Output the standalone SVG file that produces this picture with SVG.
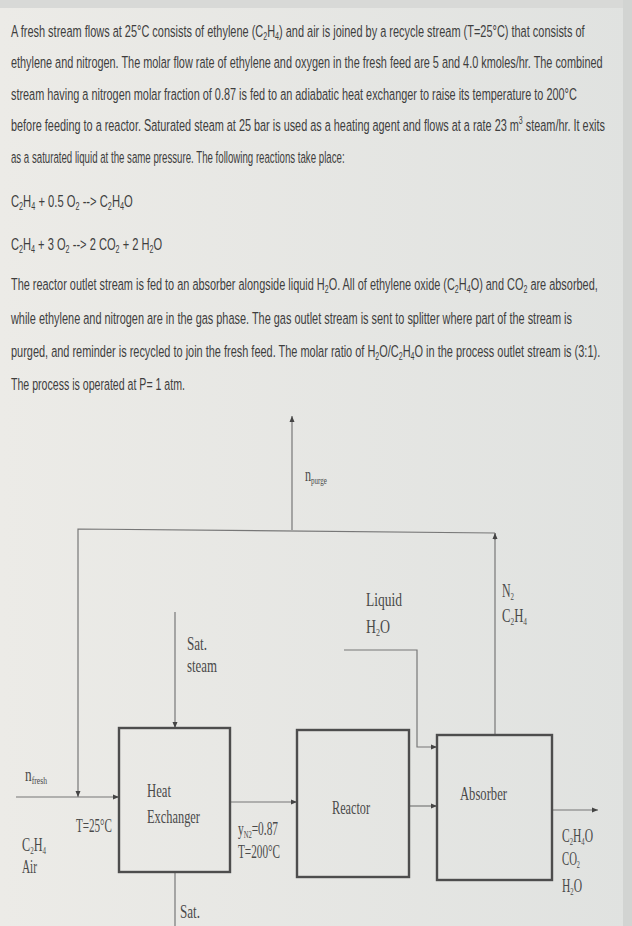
<svg xmlns="http://www.w3.org/2000/svg" width="632" height="926" viewBox="0 0 632 926">
<defs>
<linearGradient id="bg" x1="0" y1="0" x2="1" y2="0">
<stop offset="0" stop-color="#ecebe7"/>
<stop offset="1" stop-color="#e0e2e0"/>
</linearGradient>
<marker id="ar" markerWidth="6" markerHeight="6" refX="6" refY="3" orient="auto" markerUnits="userSpaceOnUse">
<path d="M0,0.5 L6,3 L0,5.5 z" fill="#444"/>
</marker>
<style>
.t{font-family:"Liberation Sans",Arial,sans-serif;font-size:17px;fill:#3e3e3e}
.d{font-family:"Liberation Serif","Times New Roman",serif;font-size:19px;fill:#4a4a4a}
.s{font-size:11px}
.ln{fill:none;stroke:#777;stroke-width:1.2}
.bx{fill:none;stroke:#4d4d4d;stroke-width:2.4}
</style>
</defs>
<rect x="0" y="0" width="632" height="926" fill="url(#bg)"/>
<rect x="0" y="0" width="632" height="8" fill="#d8d9d7"/>
<rect x="623" y="0" width="9" height="926" fill="#d2d4d2"/>

<g id="problem-text" transform="scale(0.6,1)">
<text class="t" x="18.3" y="37" textLength="956" lengthAdjust="spacingAndGlyphs">A fresh stream flows at 25°C consists of ethylene (C<tspan class="s" dy="3">2</tspan><tspan dy="-3">H</tspan><tspan class="s" dy="3">4</tspan><tspan dy="-3">) and air is joined by a recycle stream (T=25°C) that consists of</tspan></text>
<text class="t" x="18.3" y="68" textLength="986" lengthAdjust="spacingAndGlyphs">ethylene and nitrogen. The molar flow rate of ethylene and oxygen in the fresh feed are 5 and 4.0 kmoles/hr. The combined</text>
<text class="t" x="18.3" y="100" textLength="943" lengthAdjust="spacingAndGlyphs">stream having a nitrogen molar fraction of 0.87 is fed to an adiabatic heat exchanger to raise its temperature to 200°C</text>
<text class="t" x="18.3" y="131" textLength="990" lengthAdjust="spacingAndGlyphs">before feeding to a reactor. Saturated steam at 25 bar is used as a heating agent and flows at a rate 23 m<tspan class="s" dy="-7">3</tspan><tspan dy="7"> steam/hr. It exits</tspan></text>
<text class="t" x="18.3" y="163" textLength="556" lengthAdjust="spacingAndGlyphs">as a saturated liquid at the same pressure. The following reactions take place:</text>
<text class="t" x="18.3" y="207" textLength="203" lengthAdjust="spacingAndGlyphs">C<tspan class="s" dy="3">2</tspan><tspan dy="-3">H</tspan><tspan class="s" dy="3">4</tspan><tspan dy="-3"> + 0.5 O</tspan><tspan class="s" dy="3">2</tspan><tspan dy="-3"> --&gt; C</tspan><tspan class="s" dy="3">2</tspan><tspan dy="-3">H</tspan><tspan class="s" dy="3">4</tspan><tspan dy="-3">O</tspan></text>
<text class="t" x="18.3" y="250" textLength="252" lengthAdjust="spacingAndGlyphs">C<tspan class="s" dy="3">2</tspan><tspan dy="-3">H</tspan><tspan class="s" dy="3">4</tspan><tspan dy="-3"> + 3 O</tspan><tspan class="s" dy="3">2</tspan><tspan dy="-3"> --&gt; 2 CO</tspan><tspan class="s" dy="3">2</tspan><tspan dy="-3"> + 2 H</tspan><tspan class="s" dy="3">2</tspan><tspan dy="-3">O</tspan></text>
<text class="t" x="18.3" y="290" textLength="978" lengthAdjust="spacingAndGlyphs">The reactor outlet stream is fed to an absorber alongside liquid H<tspan class="s" dy="3">2</tspan><tspan dy="-3">O. All of ethylene oxide (C</tspan><tspan class="s" dy="3">2</tspan><tspan dy="-3">H</tspan><tspan class="s" dy="3">4</tspan><tspan dy="-3">O) and CO</tspan><tspan class="s" dy="3">2</tspan><tspan dy="-3"> are absorbed,</tspan></text>
<text class="t" x="18.3" y="324" textLength="935" lengthAdjust="spacingAndGlyphs">while ethylene and nitrogen are in the gas phase. The gas outlet stream is sent to splitter where part of the stream is</text>
<text class="t" x="18.3" y="357" textLength="982" lengthAdjust="spacingAndGlyphs">purged, and reminder is recycled to join the fresh feed. The molar ratio of H<tspan class="s" dy="3">2</tspan><tspan dy="-3">O/C</tspan><tspan class="s" dy="3">2</tspan><tspan dy="-3">H</tspan><tspan class="s" dy="3">4</tspan><tspan dy="-3">O in the process outlet stream is (3:1).</tspan></text>
<text class="t" x="18.3" y="390" textLength="290" lengthAdjust="spacingAndGlyphs">The process is operated at P= 1 atm.</text>
</g>

<g id="connectors">
<line class="ln" x1="292" y1="530" x2="292" y2="416" marker-end="url(#ar)"/>
<polyline class="ln" points="495,735 495,533"/>
<line class="ln" x1="495" y1="540" x2="495" y2="533" marker-end="url(#ar)"/>
<polyline class="ln" points="495,533 78,529 78,797" marker-end="url(#ar)"/>
<line class="ln" x1="16" y1="797" x2="119" y2="797" marker-end="url(#ar)"/>
<line class="ln" x1="175" y1="612" x2="175" y2="728" marker-end="url(#ar)"/>
<line class="ln" x1="175" y1="872" x2="175" y2="926"/>
<line class="ln" x1="230" y1="802" x2="297" y2="802" marker-end="url(#ar)"/>
<line class="ln" x1="409" y1="806" x2="437" y2="806" marker-end="url(#ar)"/>
<polyline class="ln" points="344,650 417,650 417,747 437,747" marker-end="url(#ar)"/>
<line class="ln" x1="552" y1="810" x2="598" y2="810" marker-end="url(#ar)"/>
</g>

<g id="heat-exchanger">
<rect class="bx" x="119" y="728" width="111" height="144"/>
<text class="d" transform="translate(147,797) scale(0.67,1)" textLength="35.8" lengthAdjust="spacingAndGlyphs">Heat</text>
<text class="d" transform="translate(147,823) scale(0.65,1)" textLength="81.5" lengthAdjust="spacingAndGlyphs">Exchanger</text>
</g>
<g id="reactor">
<rect class="bx" x="297" y="730" width="112" height="147"/>
<text class="d" transform="translate(332,814) scale(0.64,1)" textLength="59.4" lengthAdjust="spacingAndGlyphs">Reactor</text>
</g>
<g id="absorber">
<rect class="bx" x="437" y="735" width="115" height="145"/>
<text class="d" transform="translate(460,800) scale(0.66,1)" textLength="71.2" lengthAdjust="spacingAndGlyphs">Absorber</text>
</g>

<g id="labels">
<text class="d" font-size="15" transform="translate(305,481) scale(0.79,1)" textLength="27.8" lengthAdjust="spacingAndGlyphs">n<tspan class="s" font-size="9" dy="3">purge</tspan></text>
<text class="d" transform="translate(366,606) scale(0.71,1)" textLength="50.7" lengthAdjust="spacingAndGlyphs">Liquid</text>
<text class="d" transform="translate(366,633) scale(0.73,1)" textLength="32.9" lengthAdjust="spacingAndGlyphs">H<tspan class="s" dy="3">2</tspan><tspan dy="-3">O</tspan></text>
<text class="d" transform="translate(502,597) scale(0.62,1)" textLength="19.4" lengthAdjust="spacingAndGlyphs">N<tspan class="s" dy="3">2</tspan></text>
<text class="d" transform="translate(502,622) scale(0.67,1)" textLength="37.3" lengthAdjust="spacingAndGlyphs">C<tspan class="s" dy="3">2</tspan><tspan dy="-3">H</tspan><tspan class="s" dy="3">4</tspan></text>
<text class="d" transform="translate(187,650) scale(0.69,1)" textLength="29" lengthAdjust="spacingAndGlyphs">Sat.</text>
<text class="d" font-size="15" transform="translate(187,672) scale(0.86,1)" textLength="34.9" lengthAdjust="spacingAndGlyphs">steam</text>
<text class="d" font-size="15" transform="translate(25,781) scale(0.86,1)" textLength="25.6" lengthAdjust="spacingAndGlyphs">n<tspan class="s" font-size="9" dy="3">fresh</tspan></text>
<text class="d" transform="translate(76,832) scale(0.58,1)" textLength="62" lengthAdjust="spacingAndGlyphs">T=25°C</text>
<text class="d" transform="translate(22,851) scale(0.64,1)" textLength="37.5" lengthAdjust="spacingAndGlyphs">C<tspan class="s" dy="3">2</tspan><tspan dy="-3">H</tspan><tspan class="s" dy="3">4</tspan></text>
<text class="d" transform="translate(22,873) scale(0.59,1)" textLength="25.4" lengthAdjust="spacingAndGlyphs">Air</text>
<text class="d" transform="translate(238,835) scale(0.6,1)" textLength="66.7" lengthAdjust="spacingAndGlyphs">y<tspan class="s" dy="3">N2</tspan><tspan dy="-3">=0.87</tspan></text>
<text class="d" transform="translate(238,858) scale(0.59,1)" textLength="71.2" lengthAdjust="spacingAndGlyphs">T=200°C</text>
<text class="d" transform="translate(180,918) scale(0.69,1)" textLength="29" lengthAdjust="spacingAndGlyphs">Sat.</text>
<text class="d" transform="translate(562,842) scale(0.61,1)" textLength="50.8" lengthAdjust="spacingAndGlyphs">C<tspan class="s" dy="3">2</tspan><tspan dy="-3">H</tspan><tspan class="s" dy="3">4</tspan><tspan dy="-3">O</tspan></text>
<text class="d" transform="translate(562,865) scale(0.56,1)" textLength="32.1" lengthAdjust="spacingAndGlyphs">CO<tspan class="s" dy="3">2</tspan></text>
<text class="d" transform="translate(562,892) scale(0.61,1)" textLength="32.8" lengthAdjust="spacingAndGlyphs">H<tspan class="s" dy="3">2</tspan><tspan dy="-3">O</tspan></text>
</g>
</svg>
